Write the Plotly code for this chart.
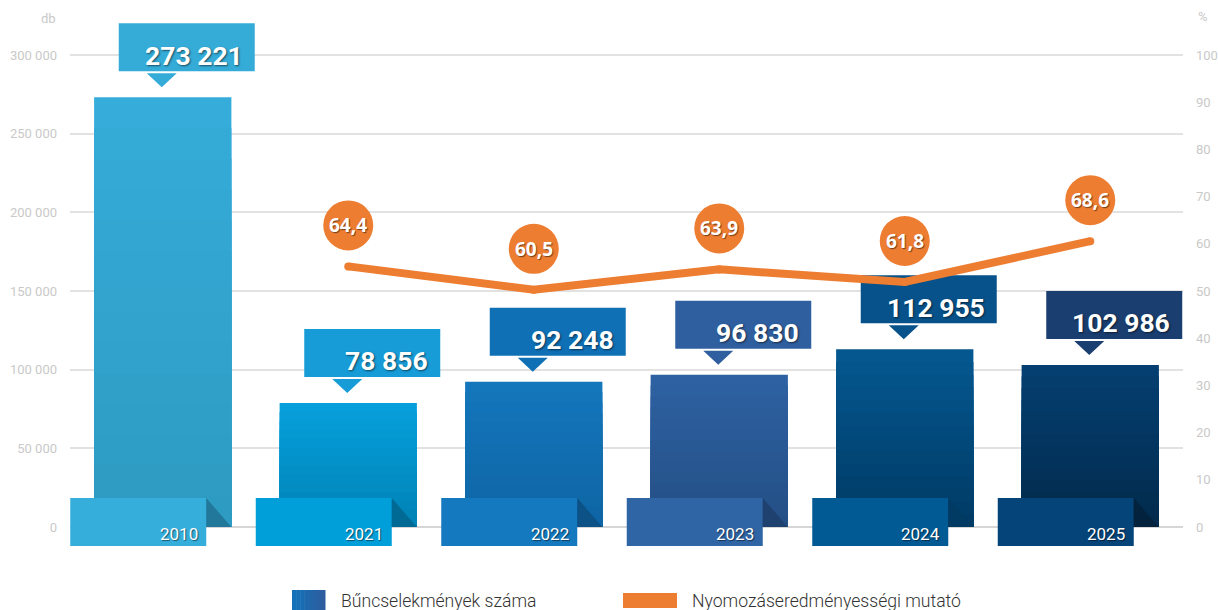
import plotly.graph_objects as go

# ---------------- data ----------------
years = ["2010", "2021", "2022", "2023", "2024", "2025"]
crimes = [273221, 78856, 92248, 96830, 112955, 102986]
rate_years = ["2021", "2022", "2023", "2024", "2025"]
rates = [64.4, 60.5, 63.9, 61.8, 68.6]

series_names = ["Bűncselekmények száma", "Nyomozáseredményességi mutató"]
left_unit = "db"
right_unit = "%"
left_ticks = [0, 50000, 100000, 150000, 200000, 250000, 300000]
right_ticks = [0, 10, 20, 30, 40, 50, 60, 70, 80, 90, 100]

# ---------------- styles ----------------
bar_top_colors = ["#35acd9", "#069fdb", "#1476bb", "#2e61a1", "#04578f", "#053e70"]
bar_bottom_colors = ["#2e9bc2", "#0083b6", "#0e65a5", "#244f86", "#003b66", "#022b4d"]
year_box_colors = ["#35aedb", "#009fda", "#1479be", "#2f64a5", "#025a94", "#044479"]
value_box_colors = ["#35acd8", "#179cd8", "#0f70b6", "#2f5f9f", "#07528a", "#1a3e70"]
fold_colors = ["#22789a", "#006a94", "#0c5286", "#1e416f", "#013a62", "#02223e"]
orange = "#ed7d31"
tick_color = "#c9c9c9"
grid_color = "#e2e2e2"

W, H = 1218, 610
# plot frame (pixels): taller than the gridded zone so callouts are not clipped
PL, PR, PT, PB = 70, 1183, 14, 552
# the gridded zone: value 0 at Y0 px, top tick at Y1 px
Y0, Y1 = 527, 55
LEFT_MAX, RIGHT_MAX = 300000, 100
LINE_RANGE = (21, 99.6)


def ext_range(lo, hi):
    per_px = (hi - lo) / (Y0 - Y1)
    return [lo - (PB - Y0) * per_px, hi + (Y1 - PT) * per_px]


def hex2rgb(h):
    h = h.lstrip("#")
    return [int(h[i:i + 2], 16) for i in (0, 2, 4)]


def mix(c1, c2, t):
    a, b = hex2rgb(c1), hex2rgb(c2)
    return "rgb({},{},{})".format(*[round(a[i] + (b[i] - a[i]) * t) for i in range(3)])


def px_x(p):
    return (p - PL) / (PR - PL)


def px_y(p):
    return (PB - p) / (PB - PT)


def fmt_int(v):
    return f"{v:,}".replace(",", " ")


def fmt_dec(v):
    return f"{v:.1f}".replace(".", ",")


xs = list(range(len(years)))
rate_x = [years.index(y) for y in rate_years]

fig = go.Figure()

# gradient bars: overlaid layers of decreasing height
N = 14
for k in range(N):
    t = k / (N - 1)
    fig.add_trace(go.Bar(
        x=xs,
        y=[v * (N - k) / N for v in crimes],
        width=0.74,
        marker=dict(color=[mix(bar_top_colors[i], bar_bottom_colors[i], t) for i in xs],
                    line=dict(width=0)),
        showlegend=False,
        hoverinfo="skip" if k else "y",
        yaxis="y",
    ))

# rate line
fig.add_trace(go.Scatter(
    x=rate_x, y=rates, yaxis="y3", mode="lines+markers",
    line=dict(color=orange, width=8),
    marker=dict(color=orange, size=8),
    showlegend=False,
))

# invisible trace so the right axis is drawn
fig.add_trace(go.Scatter(x=[0], y=[0], yaxis="y2", mode="markers",
                         marker=dict(opacity=0), showlegend=False, hoverinfo="skip"))

shapes = []
annotations = []

for i, v in zip(xs, crimes):
    # value callout box
    shapes.append(dict(type="rect", xref="x", yref="y", xsizemode="pixel", ysizemode="pixel",
                       xanchor=i, yanchor=v, x0=-44, x1=92, y0=26, y1=74,
                       fillcolor=value_box_colors[i], line=dict(width=0), layer="between"))
    shapes.append(dict(type="path", xref="x", yref="y", xsizemode="pixel", ysizemode="pixel",
                       xanchor=i, yanchor=v, path="M -16,24 L 14,24 L -1,10 Z",
                       fillcolor=value_box_colors[i], line=dict(width=0), layer="between"))
    annotations.append(dict(x=i, y=v, xref="x", yref="y", text=fmt_int(v), showarrow=False,
                            xanchor="right", yanchor="middle", xshift=82, yshift=42,
                            font=dict(family="Roboto", size=26.5, color="white", weight="bold",
                                      shadow="1px 1px 2px rgba(0,0,0,0.55)")))
    # year box at the bottom with folded corner
    shapes.append(dict(type="rect", xref="x", yref="y", xsizemode="pixel", ysizemode="pixel",
                       xanchor=i, yanchor=0, x0=-92.5, x1=43.5, y0=-19, y1=29,
                       fillcolor=year_box_colors[i], line=dict(width=0), layer="above"))
    shapes.append(dict(type="path", xref="x", yref="y", xsizemode="pixel", ysizemode="pixel",
                       xanchor=i, yanchor=0, path="M 43.5,29 L 68.5,0 L 43.5,0 Z",
                       fillcolor=fold_colors[i], line=dict(width=0), layer="above"))
    annotations.append(dict(x=i, y=0, xref="x", yref="y", text=years[i], showarrow=False,
                            xanchor="right", yanchor="middle", xshift=37, yshift=-7,
                            font=dict(family="Roboto", size=17, color="white",
                                      shadow="1px 1px 1px rgba(0,0,0,0.5)")))

for xi, r in zip(rate_x, rates):
    shapes.append(dict(type="circle", xref="x", yref="y3", xsizemode="pixel", ysizemode="pixel",
                       xanchor=xi, yanchor=r, x0=-25, x1=25, y0=16, y1=66,
                       fillcolor=orange, line=dict(width=0), layer="above"))
    annotations.append(dict(x=xi, y=r, xref="x", yref="y3", text=fmt_dec(r), showarrow=False,
                            xanchor="center", yanchor="middle", yshift=41,
                            font=dict(family="Open Sans", size=19, color="white", weight="bold",
                                      shadow="1px 1px 1px rgba(0,0,0,0.5)")))

# unit labels
annotations.append(dict(x=px_x(58), y=px_y(18), xref="paper", yref="paper", text=left_unit,
                        showarrow=False, xanchor="right", yanchor="middle",
                        font=dict(family="Roboto", size=13, color=tick_color)))
annotations.append(dict(x=px_x(1196), y=px_y(17), xref="paper", yref="paper", text=right_unit,
                        showarrow=False, xanchor="left", yanchor="middle",
                        font=dict(family="Roboto", size=13, color=tick_color)))

# custom legend
leg_y0, leg_y1 = px_y(610), px_y(590)
nseg = 8
for s in range(nseg):
    xa = 292 + 33 * s / nseg
    xb = 292 + 33 * (s + 1) / nseg + 0.5
    shapes.append(dict(type="rect", xref="paper", yref="paper", x0=px_x(xa), x1=px_x(xb),
                       y0=leg_y0, y1=leg_y1, fillcolor=mix("#1372b9", "#2d5d9f", s / (nseg - 1)),
                       line=dict(width=0), layer="above"))
annotations.append(dict(x=px_x(339), y=px_y(601), xref="paper", yref="paper", text=series_names[0],
                        showarrow=False, xanchor="left", yanchor="middle",
                        font=dict(family="Roboto", size=17.6, color="#333333", weight=300)))
shapes.append(dict(type="rect", xref="paper", yref="paper", x0=px_x(623), x1=px_x(677),
                   y0=px_y(608), y1=px_y(593), fillcolor=orange, line=dict(width=0), layer="above"))
annotations.append(dict(x=px_x(690), y=px_y(601), xref="paper", yref="paper", text=series_names[1],
                        showarrow=False, xanchor="left", yanchor="middle",
                        font=dict(family="Roboto", size=17.6, color="#333333", weight=300)))

fig.update_layout(
    width=W, height=H,
    margin=dict(l=PL, r=W - PR, t=PT, b=H - PB, pad=0, autoexpand=False),
    paper_bgcolor="white", plot_bgcolor="white",
    barmode="overlay",
    separators=", ",
    showlegend=False,
    font=dict(family="Roboto"),
    xaxis=dict(range=[-0.5, len(years) - 0.5], showticklabels=False, showgrid=False,
               zeroline=False, showline=False, ticks="", automargin=False),
    yaxis=dict(range=ext_range(0, LEFT_MAX), tickvals=left_ticks, tickformat=",d", showgrid=True,
               gridcolor=grid_color, gridwidth=1.5, zeroline=True, zerolinecolor="#d6d6d6",
               zerolinewidth=1.5, ticks="", ticklabelstandoff=12, automargin=False,
               tickfont=dict(family="Roboto", size=13, color=tick_color)),
    yaxis2=dict(range=ext_range(0, RIGHT_MAX), tickvals=right_ticks, overlaying="y", side="right",
                showgrid=False, zeroline=False, ticks="", ticklabelstandoff=12, automargin=False,
                tickfont=dict(family="Roboto", size=13, color=tick_color)),
    yaxis3=dict(range=ext_range(*LINE_RANGE), overlaying="y", visible=False),
    shapes=shapes,
    annotations=annotations,
)

fig.write_html("out.html", config={"displayModeBar": False},
               post_script="document.body.style.margin='0';")
